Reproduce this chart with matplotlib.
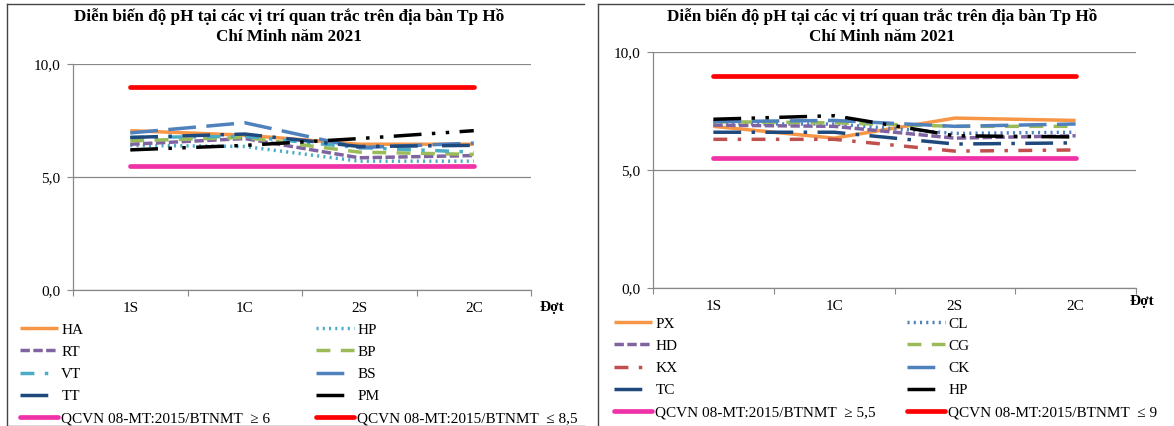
import matplotlib
matplotlib.use("Agg")
import matplotlib.pyplot as plt
from matplotlib.lines import Line2D

plt.rcParams['font.family'] = ['Liberation Serif', 'DejaVu Serif']

# data
dot = ["1S", "1C", "2S", "2C"]
ytick_vals = [0, 5, 10]
ytick_labels = ["0,0", "5,0", "10,0"]
title = "Diễn biến độ pH tại các vị trí quan trắc trên địa bàn Tp Hồ\nChí Minh năm 2021"

left_names = ["HA", "HP", "RT", "BP", "VT", "BS", "TT", "PM"]
HA = [7.05, 6.85, 6.45, 6.45]
HP = [6.4, 6.35, 5.7, 5.7]
RT = [6.45, 6.7, 5.85, 5.95]
BP = [6.6, 6.75, 6.1, 6.0]
VT = [6.75, 6.8, 6.3, 6.1]
BS = [6.95, 7.4, 6.3, 6.5]
TT = [6.75, 6.9, 6.35, 6.4]
PM = [6.2, 6.4, 6.7, 7.05]
left_series = [HA, HP, RT, BP, VT, BS, TT, PM]
left_low = [5.5, 5.5, 5.5, 5.5]
left_high = [9, 9, 9, 9]
left_low_lbl = "QCVN 08-MT:2015/BTNMT  ≥ 6"
left_high_lbl = "QCVN 08-MT:2015/BTNMT  ≤ 8,5"

right_names = ["PX", "CL", "HD", "CG", "KX", "CK", "TC", "HP"]
PX = [6.85, 6.35, 7.2, 7.1]
CL = [6.95, 6.95, 6.55, 6.6]
HD = [6.9, 6.85, 6.35, 6.45]
CG = [7.05, 7.0, 6.85, 6.85]
KX = [6.3, 6.3, 5.8, 5.85]
CK = [7.05, 7.1, 6.85, 6.95]
TC = [6.6, 6.6, 6.1, 6.15]
HP2 = [7.15, 7.3, 6.45, 6.4]
right_series = [PX, CL, HD, CG, KX, CK, TC, HP2]
right_low = [5.5, 5.5, 5.5, 5.5]
right_high = [9, 9, 9, 9]
right_low_lbl = "QCVN 08-MT:2015/BTNMT  ≥ 5,5"
right_high_lbl = "QCVN 08-MT:2015/BTNMT  ≤ 9"

# excel-ish styles, same order for both charts
left_styles = [
    ("#F79646", None),
    ("#4BACC6", (0.6, 1.2)),
    ("#8064A2", (2.7, 1)),
    ("#9BBB59", (4, 3)),
    ("#4BACC6", (4, 3, 1, 3)),
    ("#4F81BD", (8, 3)),
    ("#1F497D", (8, 3, 1, 3)),
    ("#000000", (8, 3, 1, 3, 1, 3)),
]
right_styles = [
    ("#F79646", None),
    ("#4F81BD", (0.6, 1.2)),
    ("#8064A2", (2.7, 1)),
    ("#9BBB59", (4, 3)),
    ("#C0504D", (4, 3, 1, 3)),
    ("#4F81BD", (8, 3)),
    ("#1F497D", (8, 3, 1, 3)),
    ("#000000", (8, 3, 1, 3, 1, 3)),
]

W, H = 1174, 426
fig = plt.figure(figsize=(W / 100, H / 100), dpi=100)


def px(x0, y0, x1, y1):
    return [x0 / W, 1 - y1 / H, (x1 - x0) / W, (y1 - y0) / H]


def draw(ax, names, series, styles, low, high, low_lbl, high_lbl, leg1, leg2):
    x = range(len(dot))
    handles = []
    for name, vals, (c, dash) in zip(names, series, styles):
        ln, = ax.plot(x, vals, color=c, lw=2.5, label=name,
                      solid_capstyle='butt', dash_capstyle='butt')
        if dash is not None:
            ln.set_dashes(dash)
        handles.append(ln)
    lo, = ax.plot(x, low, color="#F032A8", lw=3.4, solid_capstyle='round', label=low_lbl)
    hi, = ax.plot(x, high, color="#FF0000", lw=3.4, solid_capstyle='round', label=high_lbl)

    ax.set_xlim(-0.5, 3.5)
    ax.set_ylim(0, 10)
    ax.set_yticks(ytick_vals)
    ax.set_yticklabels(ytick_labels, fontsize=11)
    ax.set_xticks([-0.5, 0.5, 1.5, 2.5, 3.5])
    ax.set_xticklabels([])
    ax.set_xticks(list(x), minor=True)
    ax.set_xticklabels(dot, minor=True, fontsize=11)
    ax.tick_params(axis='x', which='major', length=4, color='#888888')
    ax.tick_params(axis='x', which='minor', length=0, pad=9)
    ax.tick_params(axis='y', length=4, color='#888888', pad=5)
    ax.grid(axis='y', color='#888888', lw=0.9)
    ax.set_axisbelow(True)
    for s in ['top', 'right']:
        ax.spines[s].set_visible(False)
    for s in ['left', 'bottom']:
        ax.spines[s].set_color('#888888')
        ax.spines[s].set_linewidth(0.9)

    col1 = [handles[0], handles[2], handles[4], handles[6], lo]
    col2 = [handles[1], handles[3], handles[5], handles[7], hi]
    kw = dict(loc='upper left', frameon=False, fontsize=11, handlelength=2.5,
              handletextpad=0.2, labelspacing=0.55, borderpad=0, borderaxespad=0,
              bbox_transform=fig.transFigure)
    l1 = ax.legend(handles=col1, bbox_to_anchor=(leg1[0] / W, 1 - leg1[1] / H), **kw)
    ax.add_artist(l1)
    ax.legend(handles=col2, bbox_to_anchor=(leg2[0] / W, 1 - leg2[1] / H), **kw)


ax1 = fig.add_axes(px(73, 64, 531, 290))
draw(ax1, left_names, left_series, left_styles, left_low, left_high,
     left_low_lbl, left_high_lbl, (20, 323), (316, 323))
ax2 = fig.add_axes(px(653, 52, 1136, 288))
draw(ax2, right_names, right_series, right_styles, right_low, right_high,
     right_low_lbl, right_high_lbl, (614, 317), (907, 317))

fig.text(289 / W, 1 - 8 / H, title, ha='center', va='top', fontsize=12.3,
         fontweight='bold', linespacing=1.3)
fig.text(882 / W, 1 - 8 / H, title, ha='center', va='top', fontsize=12.3,
         fontweight='bold', linespacing=1.3)
fig.text(552 / W, 1 - 308 / H, "Đợt", ha='center', va='center', fontsize=11,
         fontweight='bold')
fig.text(1142 / W, 1 - 302 / H, "Đợt", ha='center', va='center', fontsize=11,
         fontweight='bold')

# panel borders
bc = '#444444'
fig.add_artist(Line2D([7 / W, 584 / W], [1 - 4 / H, 1 - 4 / H], color=bc, lw=1))
fig.add_artist(Line2D([7 / W, 7 / W], [1 - 4 / H, 1 - 425.5 / H], color=bc, lw=1))
fig.add_artist(Line2D([7 / W, 584 / W], [1 - 425.5 / H, 1 - 425.5 / H], color=bc, lw=1))
fig.add_artist(Line2D([598 / W, 1174 / W], [1 - 4 / H, 1 - 4 / H], color=bc, lw=1))
fig.add_artist(Line2D([598 / W, 598 / W], [1 - 4 / H, 1 - 426 / H], color=bc, lw=1))

fig.savefig("out.png", dpi=100)
